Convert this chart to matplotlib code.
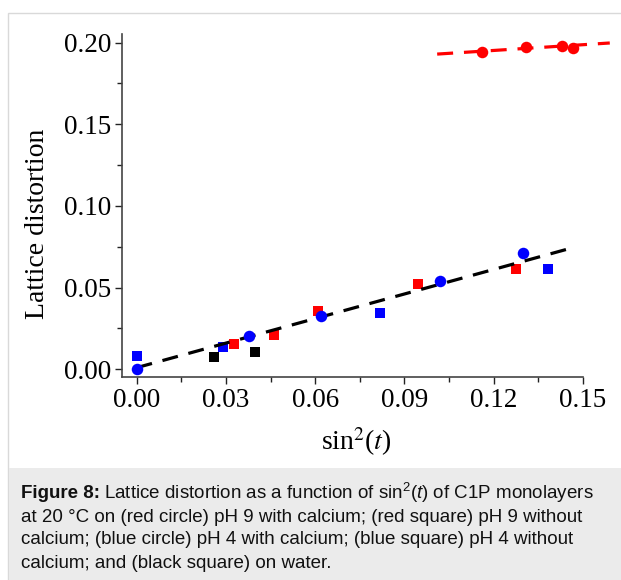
import numpy as np
import matplotlib
matplotlib.use('Agg')
import matplotlib.pyplot as plt
from matplotlib.patches import Rectangle
from matplotlib.ticker import MultipleLocator, FormatStrFormatter

# data: sin^2(t) vs lattice distortion
redCircX = [0.1161, 0.1308, 0.1428, 0.1465]
redCircY = [0.1941, 0.1972, 0.1980, 0.1969]
redSqX = [0.0326, 0.0461, 0.0610, 0.0946, 0.1275]
redSqY = [0.0153, 0.0210, 0.0357, 0.0522, 0.0616]
blueCircX = [0.0, 0.0377, 0.0619, 0.1019, 0.1297]
blueCircY = [0.0, 0.0206, 0.0326, 0.0541, 0.0712]
blueSqX = [0.0, 0.0291, 0.0818, 0.1381]
blueSqY = [0.0081, 0.0135, 0.0343, 0.0612]
blackSqX = [0.0261, 0.0398]
blackSqY = [0.0073, 0.0108]

# linear fits (end points)
blackFitX = [0.0, 0.145]
blackFitY = [0.0010, 0.0737]
redFitX = [0.101, 0.159]
redFitY = [0.1930, 0.1998]

xticks = [0.00, 0.03, 0.06, 0.09, 0.12, 0.15]
yticks = [0.00, 0.05, 0.10, 0.15, 0.20]

W, H = 621, 580
plt.rcParams['mathtext.fontset'] = 'custom'
plt.rcParams['mathtext.rm'] = 'Liberation Sans'
plt.rcParams['mathtext.it'] = 'Liberation Sans:italic'
plt.rcParams['mathtext.bf'] = 'Liberation Sans:bold'

fig = plt.figure(figsize=(W/100., H/100.), dpi=100)

# frame around chart + caption box
fig.patches.append(Rectangle((8/W, 0), 1.0, 1-13/H, transform=fig.transFigure,
                             facecolor='white', edgecolor='#d9d9d9', lw=1.0, zorder=-3))
fig.patches.append(Rectangle((8.5/W, 0), 1.0, (H-468)/H, transform=fig.transFigure,
                             facecolor='#ebebeb', edgecolor='none', zorder=-2))

ax = fig.add_axes([122/W, 1-377/H, (583-122)/W, (377-34)/H])
ax.set_facecolor('none')

serif = 'Liberation Serif'
dash = (0, (5, 3.4))
ax.plot(blackFitX, blackFitY, color='black', lw=2.3, linestyle=dash, zorder=3)
ax.plot(redFitX, redFitY, color='#ff0000', lw=2.3, linestyle=dash, zorder=3, clip_on=False)

ax.plot(blackSqX, blackSqY, 's', color='black', markersize=7.5, mew=0, zorder=2)
ax.plot(redSqX, redSqY, 's', color='#ff0000', markersize=7.5, mew=0, zorder=2)
ax.plot(blueSqX, blueSqY, 's', color='#0000ff', markersize=7.5, mew=0, zorder=2)
ax.plot(redCircX, redCircY, 'o', color='#ff0000', markersize=8.3, mew=0, zorder=4, clip_on=False)
ax.plot(blueCircX, blueCircY, 'o', color='#0000ff', markersize=8.3, mew=0, zorder=4, clip_on=False)

ax.set_xlim(-0.0049, 0.15)
ax.set_ylim(-0.0047, 0.2053)
ax.set_xticks(xticks)
ax.set_yticks(yticks)
ax.xaxis.set_minor_locator(MultipleLocator(0.015))
ax.yaxis.set_minor_locator(MultipleLocator(0.025))
ax.xaxis.set_major_formatter(FormatStrFormatter('%.2f'))
ax.yaxis.set_major_formatter(FormatStrFormatter('%.2f'))

for s in ['top', 'right']:
    ax.spines[s].set_visible(False)
for s in ['left', 'bottom']:
    ax.spines[s].set_color('#444444')
    ax.spines[s].set_linewidth(1.2)

ax.tick_params(which='major', direction='out', length=5, width=1, color='#222222',
               labelsize=19.5, pad=3)
ax.tick_params(which='minor', direction='out', length=3.5, width=1, color='#222222')
for lab in ax.get_xticklabels() + ax.get_yticklabels():
    lab.set_fontfamily(serif)

ax.set_ylabel('Lattice distortion', fontsize=20, fontfamily=serif)
ax.yaxis.set_label_coords(-0.156, 0.446)
ax.set_xlabel(r'sin$^2$($t$)', fontsize=20, fontfamily=serif, math_fontfamily='stix')
ax.xaxis.set_label_coords(0.508, -0.14)

# caption
capSize = 13.5
capLines = ['Lattice distortion as a function of sin$^2$($\\mathit{t}$) of C1P monolayers',
            'at 20 \u00b0C on (red circle) pH 9 with calcium; (red square) pH 9 without',
            'calcium; (blue circle) pH 4 with calcium; (blue square) pH 4 without',
            'calcium; and (black square) on water.']
capY = [493, 517, 540, 564]
renderer = fig.canvas.get_renderer()
head = fig.text(21/W, 1-capY[0]/H, 'Figure 8:', fontsize=capSize, fontweight='bold',
                fontfamily='Liberation Sans', va='center', ha='left', color='#111111')
hw = head.get_window_extent(renderer).width
for i, (line, yy) in enumerate(zip(capLines, capY)):
    x0 = 21 + (hw + 4 if i == 0 else 0)
    fig.text(x0/W, 1-yy/H, line, fontsize=capSize, fontfamily='Liberation Sans',
             math_fontfamily='custom', va='center', ha='left', color='#111111')

fig.savefig('out.png', dpi=100)
